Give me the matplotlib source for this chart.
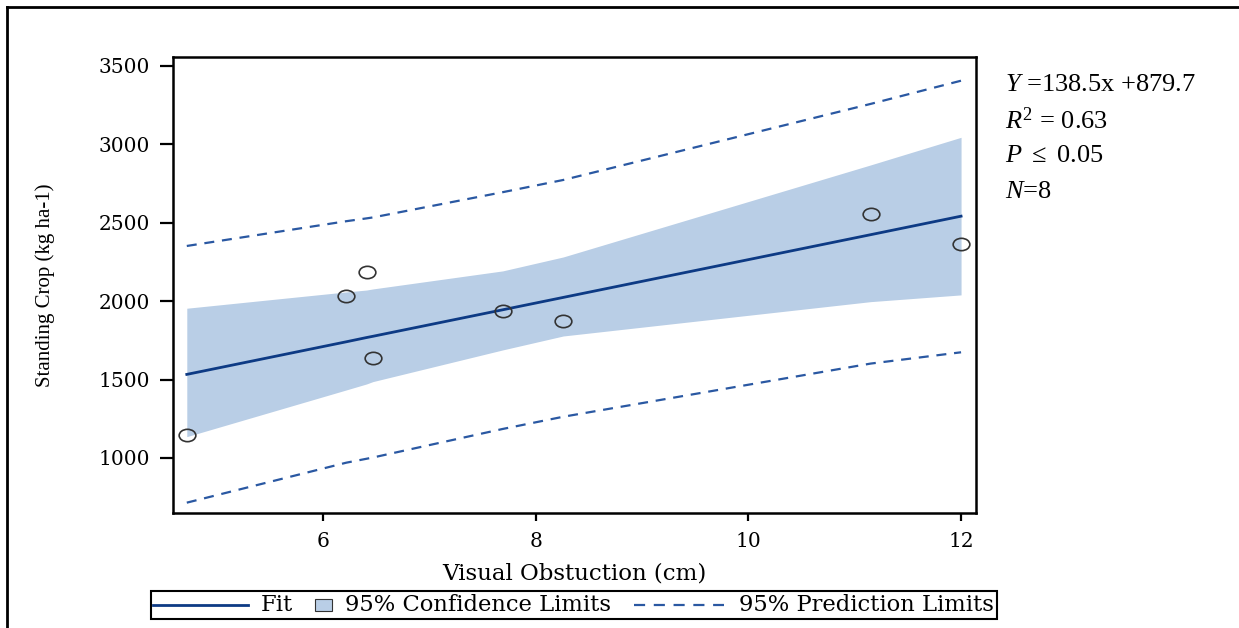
import matplotlib
matplotlib.use("Agg")
import matplotlib.pyplot as plt
from matplotlib.lines import Line2D
from matplotlib.patches import Rectangle
from matplotlib.path import Path
from matplotlib.offsetbox import (AnchoredOffsetbox, DrawingArea, HPacker,
                                  TextArea)

# ---------------------------------------------------------------------------
# Data
# ---------------------------------------------------------------------------
visual_obstruction = [4.72, 6.22, 6.41, 6.47, 7.69, 8.26, 11.15, 12.0]
standing_crop = [1147, 2032, 2185, 1640, 1936, 1873, 2557, 2366]

fit_x = [4.72, 6.22, 6.41, 6.47, 7.69, 8.26, 11.15, 12.0]
fit_y = [1533, 1741, 1768, 1776, 1945, 2024, 2424, 2542]

ci_upper = [1955, 2059, 2071, 2078, 2193, 2282, 2869, 3045]
ci_lower = [1136, 1434, 1472, 1487, 1689, 1778, 1997, 2040]

pi_upper = [2352, 2510, 2528, 2534, 2695, 2773, 3258, 3406]
pi_lower = [715, 970, 995, 1003, 1185, 1263, 1602, 1674]

y_ticks = [1000, 1500, 2000, 2500, 3000, 3500]
x_ticks = [6, 8, 10, 12]

stats_lines = [
    r"$Y$ =138.5x +879.7",
    r"$R^2$ = 0.63",
    r"$P$ $\leq$ 0.05",
    r"$N$=8",
]

# ---------------------------------------------------------------------------
# Styling
# ---------------------------------------------------------------------------
FIT = "#0d3a84"
BAND = "#b9cee6"
PRED = "#2a58a2"
SERIF = "Liberation Serif"
WIDE = "DejaVu Serif"

plt.rcParams["mathtext.fontset"] = "custom"
plt.rcParams["mathtext.it"] = "Liberation Serif:italic"
plt.rcParams["mathtext.rm"] = "Liberation Serif"

fig = plt.figure(figsize=(12.39, 6.28), dpi=100)
fig.patch.set_facecolor("white")
ax = fig.add_axes([0.1396, 0.1831, 0.6481, 0.7261])

ax.fill_between(fit_x, ci_lower, ci_upper, color=BAND, linewidth=0, zorder=1)
ax.plot(fit_x, pi_upper, color=PRED, linestyle=(0, (4.5, 3.5)), linewidth=1.6, zorder=2)
ax.plot(fit_x, pi_lower, color=PRED, linestyle=(0, (4.5, 3.5)), linewidth=1.6, zorder=2)
ax.plot(fit_x, fit_y, color=FIT, linewidth=2.0, zorder=3)

# slightly flattened circle, like the stretched original
circle = Path.unit_circle()
oval = Path(circle.vertices * [1.35, 1.0], circle.codes)
ax.plot(visual_obstruction, standing_crop, linestyle="none", marker=oval,
        markersize=12, markerfacecolor="none", markeredgecolor="#333333",
        markeredgewidth=1.2, zorder=4)

ax.set_xlim(4.59, 12.14)
ax.set_ylim(649, 3557)
ax.set_xticks(x_ticks)
ax.set_yticks(y_ticks)
for spine in ax.spines.values():
    spine.set_linewidth(1.8)
ax.tick_params(axis="y", length=9.5, width=1.6, pad=7, labelsize=14.5)
ax.tick_params(axis="x", length=6, width=1.6, pad=8, labelsize=14.5)
for lbl in ax.get_xticklabels() + ax.get_yticklabels():
    lbl.set_family(WIDE)

ax.set_xlabel("Visual Obstuction (cm)", family=WIDE, fontsize=16.5, va="center")
ax.xaxis.set_label_coords(0.5, -0.1316)
ax.set_ylabel("Standing Crop (kg ha-1)", family=SERIF, fontsize=15, va="center")
ax.yaxis.set_label_coords(-0.159, 0.5)

# regression statistics at the right
for i, line in enumerate(stats_lines):
    fig.text(0.811, 0.865 - i * 0.057, line, family=SERIF, fontsize=19,
             va="center", ha="left")

# ---------------------------------------------------------------------------
# Legend strip at the bottom (built by hand for per-entry handle widths)
# ---------------------------------------------------------------------------
text_props = dict(family=WIDE, size=16.3)

fit_da = DrawingArea(68, 12)
fit_da.add_artist(Line2D([0, 68], [6, 6], color=FIT, linewidth=2.0))

conf_da = DrawingArea(13, 12)
conf_da.add_artist(Rectangle((0, 1.5), 12.5, 9, facecolor=BAND,
                             edgecolor="#333333", linewidth=0.8))

pred_da = DrawingArea(65, 12)
pred_da.add_artist(Line2D([0, 65], [6, 6], color=PRED, linewidth=1.6,
                          linestyle=(0, (5, 3.9))))

entries = [
    HPacker(children=[fit_da, TextArea("Fit", textprops=text_props)],
            align="center", pad=0, sep=9),
    HPacker(children=[conf_da, TextArea("95% Confidence Limits", textprops=text_props)],
            align="center", pad=0, sep=9),
    HPacker(children=[pred_da, TextArea("95% Prediction Limits", textprops=text_props)],
            align="center", pad=0, sep=11),
]
strip = HPacker(children=entries, align="center", pad=0, sep=16)
legend_box = AnchoredOffsetbox(loc="center", child=strip, pad=0.2, borderpad=0,
                               frameon=True, bbox_to_anchor=(0.463, 0.0366),
                               bbox_transform=fig.transFigure)
legend_box.patch.set_boxstyle("square", pad=0)
legend_box.patch.set_edgecolor("black")
legend_box.patch.set_linewidth(1.5)
fig.add_artist(legend_box)

# outer frame on top and left
fig.add_artist(Line2D([0.0056, 1.0], [0.989, 0.989], color="black", linewidth=2,
                      transform=fig.transFigure))
fig.add_artist(Line2D([0.0056, 0.0056], [0.0, 0.989], color="black", linewidth=2,
                      transform=fig.transFigure))

fig.savefig("out.png", dpi=100, facecolor="white")
